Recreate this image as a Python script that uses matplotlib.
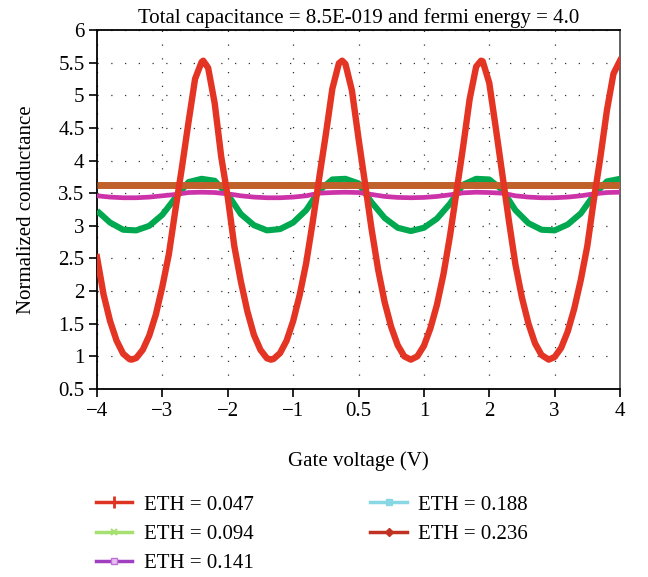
import numpy as np
import matplotlib
matplotlib.use('Agg')
import matplotlib.pyplot as plt
from matplotlib.lines import Line2D

plt.rcParams['font.family'] = ['Liberation Serif', 'DejaVu Serif']
plt.rcParams['font.size'] = 15

# красная кривая (ETH = 0.047)
volt_fine = [-4.0, -3.9, -3.8, -3.7, -3.6, -3.5, -3.47, -3.4, -3.3, -3.2, -3.1, -3.0,
             -2.9, -2.8, -2.7, -2.6, -2.5, -2.4, -2.375, -2.3, -2.2, -2.1, -2.0,
             -1.9, -1.8, -1.7, -1.6, -1.5, -1.4, -1.34, -1.3, -1.2, -1.1, -1.0,
             -0.9, -0.8, -0.7, -0.6, -0.5, -0.4, -0.3, -0.25, -0.2, -0.1, 0.0,
             0.1, 0.2, 0.3, 0.4, 0.5, 0.6, 0.7, 0.8, 0.9, 1.0,
             1.1, 1.2, 1.3, 1.4, 1.5, 1.6, 1.7, 1.8, 1.875, 1.9, 2.0,
             2.1, 2.2, 2.3, 2.4, 2.5, 2.6, 2.7, 2.8, 2.91, 3.0,
             3.1, 3.2, 3.3, 3.4, 3.5, 3.6, 3.7, 3.8, 3.9, 4.0]
eth_047 = [2.52, 1.95, 1.54, 1.24, 1.04, 0.955, 0.95, 0.975, 1.10, 1.32, 1.64, 2.07,
           2.57, 3.25, 3.90, 4.59, 5.25, 5.51, 5.53, 5.42, 4.88, 4.06, 3.44,
           2.69, 2.15, 1.69, 1.33, 1.10, 0.97, 0.95, 0.96, 1.05, 1.24, 1.54,
           1.94, 2.43, 3.06, 3.74, 4.40, 5.10, 5.49, 5.53, 5.48, 5.07, 4.34,
           3.65, 2.95, 2.33, 1.83, 1.45, 1.17, 1.00, 0.95, 1.00, 1.16,
           1.43, 1.79, 2.26, 2.85, 3.53, 4.21, 4.94, 5.44, 5.53, 5.52, 5.19,
           4.50, 3.79, 3.08, 2.41, 1.90, 1.50, 1.20, 1.02, 0.95, 0.99,
           1.13, 1.38, 1.73, 2.17, 2.69, 3.40, 4.05, 4.77, 5.33, 5.53]

# зелёная и фиолетовая кривые, шаг 0.2 В
volt_coarse = [-4.0, -3.8, -3.6, -3.4, -3.2, -3.0, -2.8, -2.6, -2.4, -2.2, -2.0,
               -1.8, -1.6, -1.4, -1.2, -1.0, -0.8, -0.6, -0.4, -0.2, 0.0,
               0.2, 0.4, 0.6, 0.8, 1.0, 1.2, 1.4, 1.6, 1.8, 2.0,
               2.2, 2.4, 2.6, 2.8, 3.0, 3.2, 3.4, 3.6, 3.8, 4.0]
eth_094 = [3.23, 3.05, 2.94, 2.93, 3.00, 3.17, 3.43, 3.67, 3.72, 3.69, 3.48,
           3.18, 3.01, 2.93, 2.95, 3.05, 3.24, 3.54, 3.71, 3.72, 3.65,
           3.36, 3.12, 2.97, 2.92, 2.97, 3.11, 3.34, 3.63, 3.72, 3.71,
           3.55, 3.24, 3.04, 2.94, 2.93, 3.02, 3.19, 3.47, 3.68, 3.72]
eth_141 = [3.46, 3.44, 3.43, 3.43, 3.44, 3.46, 3.48, 3.51, 3.515, 3.51, 3.49,
           3.46, 3.44, 3.43, 3.43, 3.44, 3.46, 3.50, 3.51, 3.515, 3.51,
           3.48, 3.45, 3.435, 3.43, 3.435, 3.45, 3.475, 3.505, 3.515, 3.51,
           3.50, 3.46, 3.44, 3.43, 3.43, 3.44, 3.46, 3.49, 3.51, 3.515]

# почти постоянная кривая
volt_flat = [-4.0, 4.0]
eth_236 = [3.62, 3.62]

x_ticks = [-4, -3, -2, -1, 0, 1, 2, 3, 4]
x_tick_labels = ['\u22124', '\u22123', '\u22122', '\u22121', '0.5', '1', '2', '3', '4']
y_ticks = [0.5, 1, 1.5, 2, 2.5, 3, 3.5, 4, 4.5, 5, 5.5, 6]
y_tick_labels = ['0.5', '1', '1.5', '2', '2.5', '3', '3.5', '4', '4.5', '5', '5.5', '6']

legend_labels = ['ETH = 0.047', 'ETH = 0.094', 'ETH = 0.141', 'ETH = 0.188', 'ETH = 0.236']

fig = plt.figure(figsize=(6.48, 5.77), dpi=100)
ax = fig.add_axes([97 / 648, 1 - 389 / 577, (620 - 97) / 648, (389 - 30) / 577])

ax.plot(volt_coarse, eth_094, color='#00a84f', lw=4.4, zorder=3, solid_capstyle='butt')
ax.plot(volt_coarse, eth_141, color='#cc33a8', lw=3.4, zorder=4)
ax.plot(volt_flat, eth_236, color='#c0602a', lw=5.0, zorder=5, solid_capstyle='butt')
ax.plot(volt_fine, eth_047, color='#e43524', lw=4.6, zorder=6)

ax.set_xlim(-4, 4)
ax.set_ylim(0.5, 6)
ax.set_xticks(x_ticks)
ax.set_xticklabels(x_tick_labels)
ax.set_yticks(y_ticks)
ax.set_yticklabels(y_tick_labels)
ax.tick_params(direction='out', length=6, width=1.2, labelsize=15, pad=3)
ax.grid(True, color='#333333', linestyle=(0, (1, 10)), linewidth=0.9)
for s in ax.spines.values():
    s.set_linewidth(1.3)
ax.spines['right'].set_color('#555555')

ax.set_xlabel('Gate voltage (V)', fontsize=15, labelpad=22)
ax.set_ylabel('Normalized conductance', fontsize=15, labelpad=16)
ax.set_title('Total capacitance = 8.5E-019 and fermi energy = 4.0', fontsize=15, pad=5)

# легенда с цветами как в оригинале
handles = [
    Line2D([], [], color='#dd3322', lw=2.5, marker='|', markersize=9, markeredgewidth=2),
    Line2D([], [], color='#a6e070', lw=2.5, marker='x', markersize=5, markeredgewidth=1.5),
    Line2D([], [], color='#a040c0', lw=2.5, marker='s', markersize=5, markerfacecolor='#e8c0f0',
           markeredgecolor='#c070d8'),
    Line2D([], [], color='#88d8e4', lw=2.5, marker='s', markersize=5, markerfacecolor='#88d8e4'),
    Line2D([], [], color='#c03322', lw=2.5, marker='D', markersize=4),
]
fig.legend(handles, legend_labels, loc='upper left', bbox_to_anchor=(96 / 648, 1 - 495 / 577),
           ncol=2, frameon=False, fontsize=15, handlelength=1.75, handletextpad=0.55,
           columnspacing=5.6, labelspacing=0.47, borderpad=0, borderaxespad=0, numpoints=1)

fig.savefig('out.png', dpi=100)
